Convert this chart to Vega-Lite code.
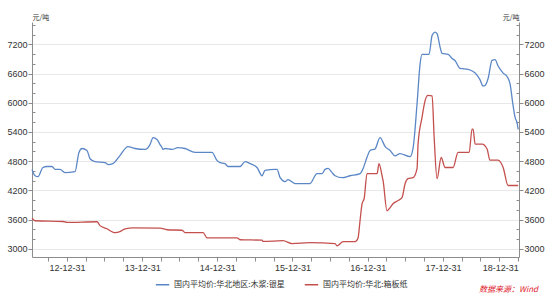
{
  "$schema": "https://vega.github.io/schema/vega-lite/v6.json",
  "width": 487,
  "height": 235,
  "autosize": "none",
  "padding": {"left": 32, "top": 22, "right": 31, "bottom": 43},
  "background": "white",
  "config": {
    "view": {"stroke": null},
    "font": "Liberation Sans",
    "axis": {"labelFont": "Liberation Sans", "labelFontSize": 9, "labelColor": "#333", "domainColor": "#8c8c8c", "tickColor": "#8c8c8c", "titleFont": "Noto Sans CJK SC", "titleFontSize": 7, "titleFontWeight": "normal", "titleColor": "#333"}
  },
  "title": {"text": "数据来源：Wind", "orient": "bottom", "anchor": "end", "font": "Noto Sans CJK SC", "fontSize": 8, "fontStyle": "italic", "fontWeight": "normal", "color": "#e0202a", "offset": 0, "dy": -3, "dx": -6},
  "datasets": {
    "blue": [
      {"date": "2012/07/14", "v": 4630}, {"date": "2012/07/29", "v": 4500}, {"date": "2012/08/12", "v": 4480}, {"date": "2012/09/05", "v": 4670}, {"date": "2012/09/25", "v": 4690}, {"date": "2012/10/19", "v": 4690}, {"date": "2012/11/03", "v": 4630}, {"date": "2012/11/27", "v": 4630}, {"date": "2012/12/21", "v": 4565}, {"date": "2013/02/08", "v": 4585}, {"date": "2013/02/27", "v": 4980}, {"date": "2013/03/14", "v": 5060}, {"date": "2013/04/07", "v": 5020}, {"date": "2013/04/22", "v": 4850}, {"date": "2013/05/16", "v": 4790}, {"date": "2013/07/04", "v": 4770}, {"date": "2013/07/18", "v": 4730}, {"date": "2013/08/11", "v": 4750}, {"date": "2013/09/14", "v": 4915}, {"date": "2013/10/23", "v": 5100}, {"date": "2013/11/26", "v": 5060}, {"date": "2014/01/14", "v": 5040}, {"date": "2014/02/07", "v": 5140}, {"date": "2014/02/22", "v": 5285}, {"date": "2014/03/13", "v": 5245}, {"date": "2014/03/28", "v": 5140}, {"date": "2014/04/06", "v": 5080}, {"date": "2014/04/11", "v": 5040}, {"date": "2014/04/21", "v": 5060}, {"date": "2014/05/25", "v": 5040}, {"date": "2014/06/23", "v": 5080}, {"date": "2014/07/27", "v": 5060}, {"date": "2014/09/14", "v": 4980}, {"date": "2014/12/05", "v": 4980}, {"date": "2014/12/30", "v": 4810}, {"date": "2015/01/13", "v": 4770}, {"date": "2015/02/06", "v": 4750}, {"date": "2015/02/21", "v": 4690}, {"date": "2015/04/20", "v": 4690}, {"date": "2015/05/15", "v": 4790}, {"date": "2015/06/08", "v": 4750}, {"date": "2015/07/12", "v": 4670}, {"date": "2015/08/05", "v": 4500}, {"date": "2015/08/20", "v": 4610}, {"date": "2015/10/07", "v": 4630}, {"date": "2015/10/17", "v": 4630}, {"date": "2015/11/01", "v": 4460}, {"date": "2015/11/25", "v": 4380}, {"date": "2015/12/09", "v": 4420}, {"date": "2016/01/12", "v": 4340}, {"date": "2016/03/25", "v": 4340}, {"date": "2016/04/28", "v": 4545}, {"date": "2016/05/23", "v": 4545}, {"date": "2016/06/06", "v": 4630}, {"date": "2016/06/21", "v": 4650}, {"date": "2016/07/10", "v": 4565}, {"date": "2016/07/25", "v": 4500}, {"date": "2016/08/28", "v": 4460}, {"date": "2016/10/06", "v": 4500}, {"date": "2016/11/23", "v": 4545}, {"date": "2016/12/08", "v": 4650}, {"date": "2016/12/27", "v": 4880}, {"date": "2017/01/11", "v": 5020}, {"date": "2017/02/04", "v": 5050}, {"date": "2017/02/28", "v": 5285}, {"date": "2017/03/25", "v": 5100}, {"date": "2017/04/18", "v": 5020}, {"date": "2017/05/12", "v": 4910}, {"date": "2017/06/05", "v": 4955}, {"date": "2017/07/24", "v": 4895}, {"date": "2017/08/08", "v": 5080}, {"date": "2017/08/27", "v": 5985}, {"date": "2017/09/11", "v": 6810}, {"date": "2017/09/20", "v": 6995}, {"date": "2017/10/24", "v": 6995}, {"date": "2017/11/08", "v": 7385}, {"date": "2017/11/22", "v": 7450}, {"date": "2017/12/02", "v": 7420}, {"date": "2017/12/17", "v": 7140}, {"date": "2017/12/26", "v": 7015}, {"date": "2018/01/25", "v": 6995}, {"date": "2018/02/13", "v": 6910}, {"date": "2018/02/27", "v": 6870}, {"date": "2018/03/24", "v": 6705}, {"date": "2018/05/02", "v": 6685}, {"date": "2018/06/14", "v": 6570}, {"date": "2018/06/29", "v": 6470}, {"date": "2018/07/13", "v": 6345}, {"date": "2018/07/23", "v": 6355}, {"date": "2018/08/07", "v": 6500}, {"date": "2018/08/26", "v": 6870}, {"date": "2018/09/10", "v": 6885}, {"date": "2018/09/24", "v": 6760}, {"date": "2018/10/19", "v": 6610}, {"date": "2018/11/07", "v": 6540}, {"date": "2018/11/22", "v": 6380}, {"date": "2018/12/06", "v": 5950}, {"date": "2018/12/16", "v": 5700}, {"date": "2018/12/26", "v": 5580}, {"date": "2018/12/31", "v": 5450}
    ],
    "red": [
      {"date": "2012/07/14", "v": 3630}, {"date": "2012/07/29", "v": 3575}, {"date": "2012/12/12", "v": 3560}, {"date": "2012/12/31", "v": 3540}, {"date": "2013/05/26", "v": 3555}, {"date": "2013/06/09", "v": 3475}, {"date": "2013/07/13", "v": 3410}, {"date": "2013/08/11", "v": 3340}, {"date": "2013/08/21", "v": 3330}, {"date": "2013/09/14", "v": 3350}, {"date": "2013/10/09", "v": 3410}, {"date": "2013/11/17", "v": 3430}, {"date": "2014/03/28", "v": 3425}, {"date": "2014/05/01", "v": 3390}, {"date": "2014/07/13", "v": 3380}, {"date": "2014/07/27", "v": 3330}, {"date": "2014/10/23", "v": 3330}, {"date": "2014/11/11", "v": 3225}, {"date": "2015/04/06", "v": 3225}, {"date": "2015/04/20", "v": 3185}, {"date": "2015/08/05", "v": 3175}, {"date": "2015/08/10", "v": 3150}, {"date": "2015/11/15", "v": 3165}, {"date": "2015/12/29", "v": 3105}, {"date": "2016/03/25", "v": 3125}, {"date": "2016/07/25", "v": 3105}, {"date": "2016/08/03", "v": 3060}, {"date": "2016/09/02", "v": 3145}, {"date": "2016/10/30", "v": 3145}, {"date": "2016/11/13", "v": 3215}, {"date": "2016/11/23", "v": 3575}, {"date": "2016/12/03", "v": 3925}, {"date": "2016/12/13", "v": 4030}, {"date": "2016/12/27", "v": 4545}, {"date": "2017/02/14", "v": 4545}, {"date": "2017/02/23", "v": 4750}, {"date": "2017/03/10", "v": 4500}, {"date": "2017/03/15", "v": 4400}, {"date": "2017/04/03", "v": 3780}, {"date": "2017/04/18", "v": 3845}, {"date": "2017/05/02", "v": 3925}, {"date": "2017/05/27", "v": 3990}, {"date": "2017/06/15", "v": 4050}, {"date": "2017/06/30", "v": 4340}, {"date": "2017/07/14", "v": 4440}, {"date": "2017/08/08", "v": 4460}, {"date": "2017/08/27", "v": 4650}, {"date": "2017/09/01", "v": 5160}, {"date": "2017/09/20", "v": 5700}, {"date": "2017/10/05", "v": 6045}, {"date": "2017/10/19", "v": 6150}, {"date": "2017/11/08", "v": 6140}, {"date": "2017/11/18", "v": 5285}, {"date": "2017/12/02", "v": 4440}, {"date": "2017/12/22", "v": 4875}, {"date": "2018/01/10", "v": 4670}, {"date": "2018/02/18", "v": 4670}, {"date": "2018/03/14", "v": 4980}, {"date": "2018/05/07", "v": 4980}, {"date": "2018/05/21", "v": 5460}, {"date": "2018/05/26", "v": 5460}, {"date": "2018/06/05", "v": 5150}, {"date": "2018/07/09", "v": 5150}, {"date": "2018/08/02", "v": 5050}, {"date": "2018/08/16", "v": 4820}, {"date": "2018/09/24", "v": 4820}, {"date": "2018/10/19", "v": 4670}, {"date": "2018/11/12", "v": 4300}, {"date": "2018/12/31", "v": 4300}
    ]
  },
  "encoding": {
    "x": {
      "field": "date", "type": "temporal",
      "scale": {"domain": [{"year": 2012, "month": 7, "date": 14}, {"year": 2019, "month": 1, "date": 4}]},
      "axis": {
        "title": null, "grid": false, "tickSize": 4, "labelPadding": 2,
        "values": [
          {"year": 2012, "month": 9, "date": 30}, {"year": 2012, "month": 12, "date": 31},
          {"year": 2013, "month": 3, "date": 31}, {"year": 2013, "month": 6, "date": 30}, {"year": 2013, "month": 9, "date": 30}, {"year": 2013, "month": 12, "date": 31},
          {"year": 2014, "month": 3, "date": 31}, {"year": 2014, "month": 6, "date": 30}, {"year": 2014, "month": 9, "date": 30}, {"year": 2014, "month": 12, "date": 31},
          {"year": 2015, "month": 3, "date": 31}, {"year": 2015, "month": 6, "date": 30}, {"year": 2015, "month": 9, "date": 30}, {"year": 2015, "month": 12, "date": 31},
          {"year": 2016, "month": 3, "date": 31}, {"year": 2016, "month": 6, "date": 30}, {"year": 2016, "month": 9, "date": 30}, {"year": 2016, "month": 12, "date": 31},
          {"year": 2017, "month": 3, "date": 31}, {"year": 2017, "month": 6, "date": 30}, {"year": 2017, "month": 9, "date": 30}, {"year": 2017, "month": 12, "date": 31},
          {"year": 2018, "month": 3, "date": 31}, {"year": 2018, "month": 6, "date": 30}, {"year": 2018, "month": 9, "date": 30}, {"year": 2018, "month": 12, "date": 31}
        ],
        "labelExpr": "month(datum.value) == 11 ? timeFormat(datum.value, '%y-%m-%d') : ''",
        "labelOverlap": false
      }
    },
    "color": {
      "field": "s", "type": "nominal",
      "scale": {"domain": ["国内平均价:华北地区:木浆:银星", "国内平均价:华北:箱板纸"], "range": ["#5b87c6", "#c4504e"]},
      "legend": {"title": null, "orient": "none", "direction": "horizontal", "legendX": 123, "legendY": 255, "symbolType": "stroke", "symbolSize": 180, "symbolStrokeWidth": 1.5, "labelFont": "Noto Sans CJK SC", "labelFontSize": 8, "labelColor": "#333", "columnPadding": 16, "symbolOffset": 0}
    }
  },
  "layer": [
    {
      "data": {"name": "blue", "format": {"parse": {"date": "date"}}},
      "transform": [{"calculate": "'国内平均价:华北地区:木浆:银星'", "as": "s"}],
      "mark": {"type": "line", "strokeWidth": 1.3, "interpolate": "monotone"},
      "encoding": {
        "y": {
          "field": "v", "type": "quantitative",
          "scale": {"domain": [2830, 7660], "nice": false, "zero": false},
          "axis": {
            "orient": "left", "title": "元/吨", "titleAngle": 0, "titleAlign": "left", "titleBaseline": "bottom", "titleX": 0, "titleY": -2,
            "values": [3000, 3200, 3400, 3600, 3800, 4000, 4200, 4400, 4600, 4800, 5000, 5200, 5400, 5600, 5800, 6000, 6200, 6400, 6600, 6800, 7000, 7200, 7400, 7600],
            "labelExpr": "datum.value % 600 == 0 ? datum.value : ''",
            "tickSize": {"condition": {"test": "datum.value % 600 == 0", "value": 4}, "value": -3},
            "labelPadding": 1,
            "grid": true, "gridColor": "#e8e8e8",
            "gridOpacity": {"condition": {"test": "datum.value % 600 == 0", "value": 1}, "value": 0}
          }
        }
      }
    },
    {
      "data": {"name": "red", "format": {"parse": {"date": "date"}}},
      "transform": [{"calculate": "'国内平均价:华北:箱板纸'", "as": "s"}],
      "mark": {"type": "line", "strokeWidth": 1.3, "interpolate": "monotone"},
      "encoding": {
        "y": {
          "field": "v", "type": "quantitative",
          "scale": {"domain": [2830, 7660], "nice": false, "zero": false},
          "axis": {
            "orient": "right", "title": "元/吨", "titleAngle": 0, "titleAlign": "right", "titleBaseline": "bottom", "titleX": 0, "titleY": -2,
            "values": [3000, 3200, 3400, 3600, 3800, 4000, 4200, 4400, 4600, 4800, 5000, 5200, 5400, 5600, 5800, 6000, 6200, 6400, 6600, 6800, 7000, 7200, 7400, 7600],
            "labelExpr": "datum.value % 600 == 0 ? datum.value : ''",
            "tickSize": {"condition": {"test": "datum.value % 600 == 0", "value": 4}, "value": -3},
            "labelPadding": 1,
            "grid": false
          }
        }
      }
    }
  ],
  "resolve": {"scale": {"y": "independent"}}
}
